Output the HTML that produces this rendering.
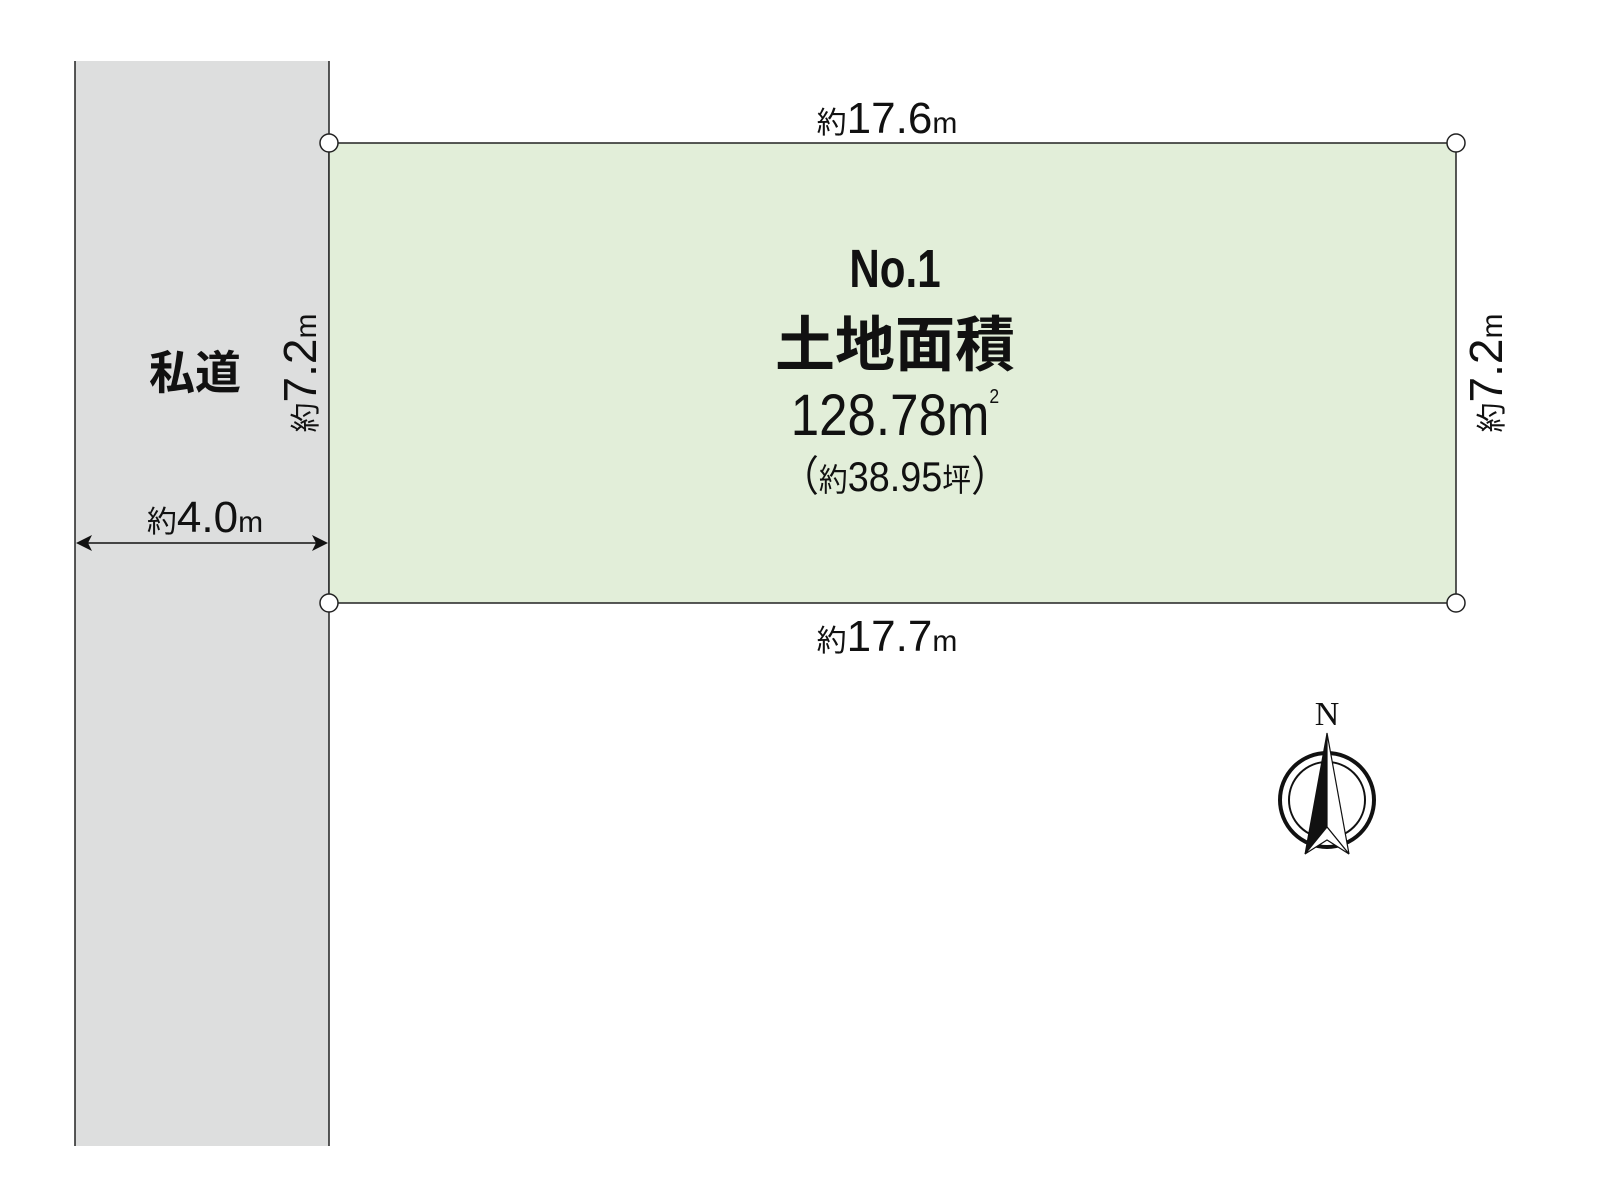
<!DOCTYPE html>
<html><head><meta charset="utf-8"><style>
html,body{margin:0;padding:0;background:#fff;}
svg{display:block}
text{font-family:"Liberation Sans","Noto Sans CJK JP",sans-serif;fill:#111;}
</style></head><body>
<svg width="1600" height="1200" viewBox="0 0 1600 1200" xmlns="http://www.w3.org/2000/svg">
<rect x="75" y="61" width="254" height="1085" fill="#dddede"/>
<line x1="75" y1="61" x2="75" y2="1146" stroke="#222" stroke-width="1.5"/>
<line x1="329" y1="61" x2="329" y2="1146" stroke="#222" stroke-width="1.5"/>
<rect x="329" y="143" width="1127" height="460" fill="#e2eed9" stroke="#222" stroke-width="1.5"/>
<g fill="#fff" stroke="#222" stroke-width="1.5">
<circle cx="329" cy="143" r="9"/><circle cx="1456" cy="143" r="9"/>
<circle cx="329" cy="603" r="9"/><circle cx="1456" cy="603" r="9"/>
</g>
<line x1="78" y1="543" x2="326" y2="543" stroke="#111" stroke-width="1.5"/>
<path d="M76 543 L92 535 L88 543 L92 551 Z" fill="#111"/>
<path d="M328 543 L312 535 L316 543 L312 551 Z" fill="#111"/>
<g text-anchor="middle">
<text x="887" y="133" font-size="30">約<tspan font-size="44">17.6</tspan>m</text>
<text x="887" y="651" font-size="30">約<tspan font-size="44">17.7</tspan>m</text>
<text x="205" y="532" font-size="30">約<tspan font-size="44">4.0</tspan>m</text>
<text x="195" y="389" font-size="46" font-weight="bold">私道</text>
<text x="895" y="287" font-size="54" font-weight="bold" transform="translate(895 0) scale(0.78 1) translate(-895 0)">No.1</text>
<text x="895" y="366" font-size="60" font-weight="bold">土地面積</text>
<text x="895" y="435" font-size="58" transform="translate(895 0) scale(0.88 1) translate(-895 0)">128.78m<tspan font-size="20" dy="-32">2</tspan></text>
<text x="895" y="491" font-size="42" transform="translate(895 0) scale(0.9 1) translate(-895 0)">（<tspan font-size="32">約</tspan>38.95<tspan font-size="32">坪</tspan>）</text>
<text transform="translate(316 373) rotate(-90)" font-size="30">約<tspan font-size="46">7.2</tspan>m</text>
<text transform="translate(1502 373) rotate(-90)" font-size="30">約<tspan font-size="46">7.2</tspan>m</text>
</g>
<text x="1327" y="725" font-size="34" text-anchor="middle" style="font-family:'Liberation Serif',serif">N</text>
<circle cx="1327" cy="800" r="47" fill="none" stroke="#111" stroke-width="4"/>
<circle cx="1327" cy="800" r="38" fill="none" stroke="#111" stroke-width="2"/>
<path d="M1327 733 L1305 854 L1327 827 Z" fill="#111" stroke="#111" stroke-width="1"/>
<path d="M1327 733 L1349 854 L1327 827 Z" fill="#fff" stroke="#111" stroke-width="1.2"/>
<path d="M1305 854 L1327 840 L1349 854 L1327 827 Z" fill="#fff" stroke="#111" stroke-width="1.2"/>
</svg>
</body></html>
